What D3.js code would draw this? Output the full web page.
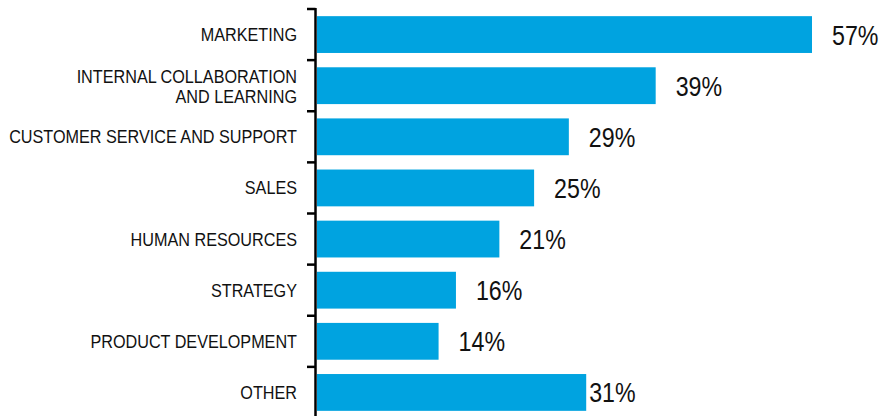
<!DOCTYPE html>
<html>
<head>
<meta charset="utf-8">
<script src="https://cdn.jsdelivr.net/npm/d3@7"></script>
<style>
  body { margin: 0; background: #fff; }
  svg { display: block; }
  .cat { font-family: "Liberation Sans", Arial, sans-serif; font-size: 18px; fill: #111; }
  .val { font-family: "Liberation Sans", Arial, sans-serif; font-size: 27px; fill: #111; }
</style>
</head>
<body>
<svg id="chart" width="884" height="416"></svg>
<script>
// chart data
const categories = ["MARKETING", "INTERNAL COLLABORATION\nAND LEARNING", "CUSTOMER SERVICE AND SUPPORT",
  "SALES", "HUMAN RESOURCES", "STRATEGY", "PRODUCT DEVELOPMENT", "OTHER"];
const values = [57, 39, 29, 25, 21, 16, 14, 31];
const valueLabels = ["57%", "39%", "29%", "25%", "21%", "16%", "14%", "31%"];

const svg = d3.select("#chart");

let x = d3.scaleLinear().domain([0, 57]).range([317, 812]);
let y = d3.scaleBand().domain(categories).range([9, 418])
    .paddingInner(0.28).paddingOuter(0.14);

let rows = categories.map((c, i) => ({cat: c, v: values[i], label: valueLabels[i], i: i}));

// bars
svg.selectAll("rect.bar").data(rows).enter().append("rect")
    .attr("class", "bar")
    .attr("x", x(0))
    .attr("y", d => y(d.cat))
    .attr("width", d => x(d.v) - x(0))
    .attr("height", y.bandwidth())
    .attr("fill", "#00a3e0");

// axis line with ticks at band edges
let half = y.step() * y.paddingInner() / 2;
let edges = categories.map(c => y(c) - half);
edges.push(y.range()[1]);
let axisX = 315.5;
svg.append("line")
    .attr("x1", axisX).attr("x2", axisX)
    .attr("y1", edges[0] - 1).attr("y2", edges[edges.length - 1])
    .attr("stroke", "#000").attr("stroke-width", 2.5);
svg.selectAll("line.tick").data(edges).enter().append("line")
    .attr("class", "tick")
    .attr("x1", 307).attr("x2", axisX)
    .attr("y1", d => d).attr("y2", d => d)
    .attr("stroke", "#000").attr("stroke-width", 2.5);

// category labels, condensed
let cat = svg.selectAll("text.cat").data(rows).enter().append("text")
    .attr("class", "cat")
    .attr("text-anchor", "end")
    .attr("transform", "translate(297,0) scale(0.9,1)");
cat.each(function (d) {
    let lines = d.cat.split("\n");
    let mid = y(d.cat) + y.bandwidth() / 2;
    let first = lines.length > 1 ? mid - 3 : mid + 6.5;
    lines.forEach((l, k) => {
        d3.select(this).append("tspan")
            .attr("x", 0)
            .attr("y", first + k * 20)
            .text(l);
    });
});

// value labels (the last one sits tight against its bar)
svg.selectAll("text.val").data(rows).enter().append("text")
    .attr("class", "val")
    .attr("transform", d => "translate(" + (x(d.v) + (d.i === rows.length - 1 ? 3 : 20)) + ","
        + (y(d.cat) + y.bandwidth() / 2 + 10) + ") scale(0.86,1)")
    .text(d => d.label);
</script>
</body>
</html>
